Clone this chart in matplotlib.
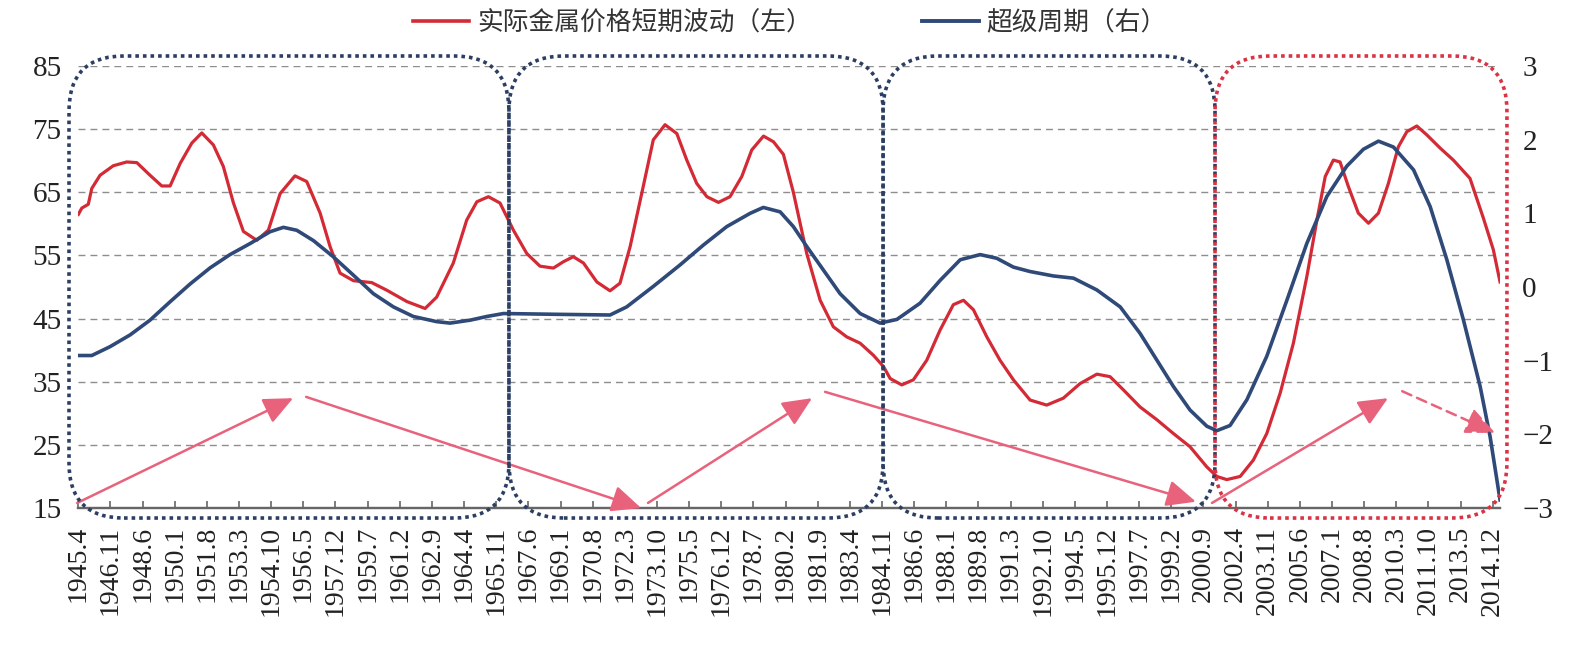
import matplotlib
matplotlib.use("Agg")
import matplotlib.pyplot as plt
from matplotlib.patches import FancyBboxPatch, FancyArrowPatch
from matplotlib.transforms import IdentityTransform
from matplotlib.lines import Line2D

# x axis labels: every 19 months from 1945.4 to 2014.12
tick_labels = [
    "1945.4", "1946.11", "1948.6", "1950.1", "1951.8", "1953.3", "1954.10", "1956.5",
    "1957.12", "1959.7", "1961.2", "1962.9", "1964.4", "1965.11", "1967.6", "1969.1",
    "1970.8", "1972.3", "1973.10", "1975.5", "1976.12", "1978.7", "1980.2", "1981.9",
    "1983.4", "1984.11", "1986.6", "1988.1", "1989.8", "1991.3", "1992.10", "1994.5",
    "1995.12", "1997.7", "1999.2", "2000.9", "2002.4", "2003.11", "2005.6", "2007.1",
    "2008.8", "2010.3", "2011.10", "2013.5", "2014.12",
]

# 实际金属价格短期波动 (left axis)
red_years = [
    1945.25, 1945.42, 1945.74, 1945.91, 1946.32, 1946.97, 1947.63, 1948.13, 1948.78, 1949.36,
    1949.77, 1950.27, 1950.84, 1951.33, 1951.90, 1952.39, 1952.89, 1953.38, 1954.04, 1954.61,
    1955.19, 1955.92, 1956.50, 1957.16, 1957.65, 1958.14, 1958.80, 1959.70, 1960.44, 1961.43,
    1962.33, 1962.90, 1963.72, 1964.38, 1964.88, 1965.45, 1966.02, 1966.68, 1967.34, 1967.99,
    1968.65, 1969.14, 1969.63, 1970.13, 1970.79, 1971.44, 1971.93, 1972.43, 1973.00, 1973.57,
    1974.15, 1974.73, 1975.22, 1975.71, 1976.21, 1976.78, 1977.35, 1977.93, 1978.42, 1979.00,
    1979.49, 1979.98, 1980.47, 1981.13, 1981.79, 1982.44, 1983.10, 1983.76, 1984.41, 1984.91,
    1985.24, 1985.81, 1986.38, 1987.04, 1987.70, 1988.35, 1988.85, 1989.34, 1990.00, 1990.65,
    1991.31, 1992.13, 1992.95, 1993.77, 1994.59, 1995.42, 1996.07, 1996.73, 1997.55, 1998.37,
    1999.19, 2000.01, 2000.84, 2001.33, 2001.82, 2002.48, 2003.13, 2003.79, 2004.45, 2005.10,
    2005.76, 2006.26, 2006.67, 2007.07, 2007.40, 2007.81, 2008.30, 2008.80, 2009.29, 2009.78,
    2010.27, 2010.69, 2011.18, 2011.67, 2012.33, 2012.98, 2013.80, 2014.46, 2014.95, 2015.28,
]
red_values = [
    61.5, 62.5, 63.1, 65.6, 67.7, 69.2, 69.8, 69.7, 67.7, 66.0,
    66.0, 69.6, 72.8, 74.4, 72.5, 69.1, 63.3, 58.8, 57.4, 59.0,
    64.8, 67.6, 66.7, 61.7, 56.4, 52.2, 51.0, 50.7, 49.5, 47.7,
    46.6, 48.4, 53.8, 60.6, 63.5, 64.3, 63.3, 59.0, 55.3, 53.3,
    53.0, 54.0, 54.8, 53.8, 50.8, 49.4, 50.6, 56.4, 64.8, 73.3,
    75.7, 74.3, 70.1, 66.4, 64.3, 63.4, 64.3, 67.5, 71.7, 73.9,
    73.0, 71.0, 65.0, 55.3, 47.9, 43.7, 42.1, 41.1, 39.2, 37.4,
    35.5, 34.5, 35.3, 38.4, 43.2, 47.2, 47.9, 46.4, 42.1, 38.4,
    35.3, 32.1, 31.3, 32.4, 34.7, 36.2, 35.8, 33.7, 31.0, 29.0,
    26.8, 24.7, 21.5, 20.0, 19.5, 20.0, 22.6, 26.8, 33.2, 41.1,
    51.6, 60.6, 67.5, 70.1, 69.8, 65.9, 61.7, 60.1, 61.7, 66.4,
    72.2, 74.6, 75.5, 74.1, 72.0, 70.1, 67.2, 60.9, 55.9, 50.8,
]

# 超级周期 (right axis)
blue_years = [
    1945.25, 1945.91, 1946.81, 1947.80, 1948.78, 1949.77, 1950.75, 1951.74, 1952.72, 1953.71,
    1954.69, 1955.35, 1956.01, 1956.83, 1957.81, 1958.80, 1959.78, 1960.77, 1961.75, 1962.90,
    1963.56, 1964.55, 1965.37, 1966.19, 1968.65, 1971.44, 1972.26, 1973.58, 1974.89, 1976.04,
    1977.19, 1978.34, 1978.99, 1979.82, 1980.47, 1981.13, 1981.95, 1982.77, 1983.76, 1984.74,
    1985.57, 1986.71, 1987.70, 1988.69, 1989.67, 1990.49, 1991.31, 1992.13, 1993.28, 1994.27,
    1995.42, 1996.57, 1997.55, 1998.37, 1999.19, 2000.01, 2000.84, 2001.33, 2001.98, 2002.81,
    2003.79, 2004.78, 2005.76, 2006.75, 2007.73, 2008.55, 2009.29, 2010.03, 2011.02, 2011.84,
    2012.66, 2013.48, 2014.30, 2014.79, 2015.28,
]
blue_values = [
    -0.93, -0.93, -0.81, -0.65, -0.45, -0.20, 0.04, 0.26, 0.44, 0.59,
    0.75, 0.81, 0.77, 0.63, 0.41, 0.16, -0.09, -0.27, -0.40, -0.47,
    -0.49, -0.45, -0.40, -0.36, -0.37, -0.38, -0.27, 0.01, 0.30, 0.57,
    0.82, 1.00, 1.08, 1.02, 0.82, 0.55, 0.23, -0.09, -0.36, -0.49,
    -0.44, -0.22, 0.09, 0.37, 0.44, 0.39, 0.27, 0.21, 0.15, 0.12,
    -0.04, -0.27, -0.63, -0.99, -1.35, -1.67, -1.89, -1.95, -1.88, -1.53,
    -0.94, -0.18, 0.59, 1.23, 1.64, 1.87, 1.98, 1.90, 1.59, 1.09,
    0.37, -0.45, -1.35, -2.03, -2.89,
]

# dotted boxes: year edges, colour
box_edges = [1944.79, 1966.46, 1984.89, 2001.24, 2015.62]
box_colors = ["#2c3f63", "#2c3f63", "#2c3f63", "#d93445"]

# trend arrows (year, left-axis value) -> (year, value), dashed?
arrows = [
    ((1945.19, 15.8), (1955.83, 32.4), False),
    ((1956.47, 32.6), (1972.97, 15.0), False),
    ((1973.31, 15.8), (1981.39, 32.4), False),
    ((1982.03, 33.4), (2000.30, 16.0), False),
    ((2001.09, 15.8), (2009.76, 32.4), False),
    ((2010.46, 33.5), (2015.04, 26.9), True),
]

RED = "#d42a36"
BLUE = "#2f4a78"
PINK = "#e9627c"

plt.rcParams["font.family"] = ["Liberation Serif", "Noto Sans CJK SC"]


def label_to_year(s):
    y, m = s.split(".")
    return int(y) + (int(m) - 1) / 12


fig = plt.figure(figsize=(15.86, 6.47), dpi=100)
ax = fig.add_axes([0.0494, 0.2148, 0.8964, 0.6832])
ax2 = ax.twinx()

ax.plot(red_years, red_values, color=RED, lw=2.3, solid_joinstyle="round", zorder=3)
ax2.plot(blue_years, blue_values, color=BLUE, lw=2.6, solid_joinstyle="round", zorder=3)

ax.set_xlim(1945.25, 2015.28)
ax.set_ylim(15, 85)
ax2.set_ylim(-3, 3)
ax.set_yticks(range(15, 86, 10))
ax2.set_yticks(range(-3, 4))

ax.set_xticks([label_to_year(s) for s in tick_labels])
ax.set_xticklabels(tick_labels, rotation=90, fontsize=20, color="#222222")
ax.tick_params(axis="x", direction="in", length=5, width=1.2, color="#666666", pad=13)
ax.tick_params(axis="y", length=0, labelsize=21, labelcolor="#222222", pad=12)
ax2.tick_params(axis="y", length=0, labelsize=21, labelcolor="#222222", pad=16)

ax.yaxis.grid(True, linestyle=(0, (5, 3.6)), color="#8e8e8e", lw=1.0)
for a in (ax, ax2):
    for side in ("top", "left", "right"):
        a.spines[side].set_visible(False)
    a.spines["bottom"].set_color("#666666")
    a.spines["bottom"].set_linewidth(1.6)

# trend arrows
for (p0, p1, dashed) in arrows:
    arr = FancyArrowPatch(p0, p1, transform=ax.transData,
                          arrowstyle="-|>,head_length=1.0,head_width=0.45",
                          mutation_scale=18, color=PINK, lw=1.8,
                          linestyle=(0, (4, 2.5)) if dashed else "-",
                          shrinkA=0, shrinkB=0, clip_on=False, zorder=4)
    ax2.add_patch(arr)

# rounded dotted boxes, drawn in pixel space so corners stay round
bottom_px = ax.transData.transform((1945.25, 15))[1] - 10
top_px = ax.transData.transform((1945.25, 85))[1] + 10
for i, col in enumerate(box_colors):
    x0 = ax.transData.transform((box_edges[i], 15))[0]
    x1 = ax.transData.transform((box_edges[i + 1], 15))[0]
    box = FancyBboxPatch((x0, bottom_px), x1 - x0, top_px - bottom_px,
                         boxstyle="round,pad=0,rounding_size=55",
                         transform=IdentityTransform(), fill=False,
                         edgecolor=col, lw=2.6, linestyle=(0, (1, 1.1)),
                         capstyle="butt", clip_on=False, zorder=5)
    ax2.add_patch(box)

handles = [Line2D([], [], color=RED, lw=2.6), Line2D([], [], color=BLUE, lw=2.8)]
fig.legend(handles, ["实际金属价格短期波动（左）", "超级周期（右）"],
           loc="center", bbox_to_anchor=(0.498, 0.964), ncol=2, frameon=False,
           prop={"family": "Noto Sans CJK SC", "size": 18.5},
           handlelength=2.2, handletextpad=0.3, columnspacing=4.3,
           labelcolor="#333333")

fig.savefig("out.png", dpi=100)
